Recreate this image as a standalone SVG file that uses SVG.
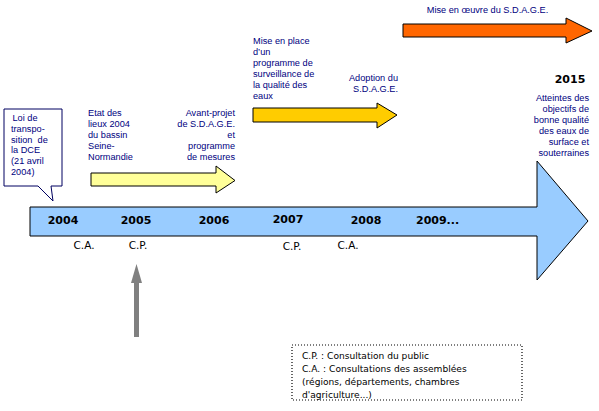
<svg xmlns="http://www.w3.org/2000/svg" width="599" height="411" viewBox="0 0 599 411">
<style>
.lbl{font-family:"Liberation Sans",Arial,sans-serif;font-size:9.2px;fill:#000080}
.r{text-anchor:end}
.yr{font-family:"DejaVu Sans",Verdana,sans-serif;font-size:11px;font-weight:bold;fill:#000}
.ab{font-family:"DejaVu Sans",Verdana,sans-serif;font-size:10.5px;fill:#000}
.lg{font-family:"DejaVu Sans",Verdana,sans-serif;font-size:9.1px;fill:#000}
.arr{stroke:#000;stroke-width:1}
</style>
<rect width="599" height="411" fill="#fff"/>
<g id="connectors">
<polygon id="timeline" class="arr" fill="#99ccff" points="30,207 537,207 537,161 588,221 537,280 537,236 30,236"/>
<polygon id="arrow-etat" class="arr" fill="#ffff99" points="91,173 216,173 216,166 235,180.5 216,193 216,186 91,186"/>
<polygon id="arrow-surv" class="arr" fill="#ffcc00" points="253,108 377,108 377,103 397,115 377,128 377,122 253,122"/>
<polygon id="arrow-oeuvre" class="arr" fill="#ff6600" points="403,24 566,24 566,18 592,31 566,43 566,37 403,37"/>
<g id="arrow-gray" fill="#808080">
<rect x="134" y="282" width="5" height="55"/>
<polygon points="131,283 136.5,264 142,283"/>
</g>
</g>
<g id="years">
<text class="yr" x="63" y="224" text-anchor="middle">2004</text>
<text class="yr" x="136" y="224" text-anchor="middle">2005</text>
<text class="yr" x="214" y="224" text-anchor="middle">2006</text>
<text class="yr" x="288" y="223" text-anchor="middle">2007</text>
<text class="yr" x="366" y="224" text-anchor="middle">2008</text>
<text class="yr" x="416" y="224">2009...</text>
<text class="yr" x="570" y="83" text-anchor="middle">2015</text>
</g>
<g id="consultations">
<text class="ab" x="84" y="249" text-anchor="middle">C.A.</text>
<text class="ab" x="138" y="249" text-anchor="middle">C.P.</text>
<text class="ab" x="292" y="250" text-anchor="middle">C.P.</text>
<text class="ab" x="348" y="249" text-anchor="middle">C.A.</text>
</g>
<g id="callout-loi">
<path d="M4,109 H62 V186 H51 L53,201 L38,186 H4 Z" fill="#fff" stroke="#000060" stroke-width="1"/>
<text class="lbl" x="12.5" y="121.3">Loi de</text>
<text class="lbl" x="11" y="132">transpo-</text>
<text class="lbl" x="11" y="142.7" xml:space="preserve">sition  de</text>
<text class="lbl" x="11" y="153.4">la DCE</text>
<text class="lbl" x="11" y="164">(21 avril</text>
<text class="lbl" x="11" y="174.7">2004)</text>
</g>
<g id="label-etat">
<text class="lbl" x="88" y="116">Etat des</text>
<text class="lbl" x="88" y="127">lieux 2004</text>
<text class="lbl" x="88" y="138">du bassin</text>
<text class="lbl" x="88" y="149">Seine-</text>
<text class="lbl" x="88" y="160">Normandie</text>
</g>
<g id="label-avant">
<text class="lbl r" x="235" y="116">Avant-projet</text>
<text class="lbl r" x="235" y="127">de S.D.A.G.E.</text>
<text class="lbl r" x="235" y="138">et</text>
<text class="lbl r" x="235" y="149">programme</text>
<text class="lbl r" x="235" y="160">de mesures</text>
</g>
<g id="label-surv">
<text class="lbl" x="253" y="43.5">Mise en place</text>
<text class="lbl" x="253" y="54.5">d’un</text>
<text class="lbl" x="253" y="65.5">programme de</text>
<text class="lbl" x="253" y="76.5">surveillance de</text>
<text class="lbl" x="253" y="87.5">la qualité des</text>
<text class="lbl" x="253" y="98.5">eaux</text>
</g>
<g id="label-adoption">
<text class="lbl r" x="398" y="81">Adoption du</text>
<text class="lbl r" x="398" y="92">S.D.A.G.E.</text>
</g>
<g id="label-oeuvre">
<text class="lbl" x="487.5" y="13" text-anchor="middle">Mise en œuvre du S.D.A.G.E.</text>
</g>
<g id="label-2015">
<text class="lbl r" x="589" y="101">Atteintes des</text>
<text class="lbl r" x="589" y="112">objectifs de</text>
<text class="lbl r" x="589" y="123">bonne qualité</text>
<text class="lbl r" x="589" y="134">des eaux de</text>
<text class="lbl r" x="589" y="145">surface et</text>
<text class="lbl r" x="589" y="156">souterraines</text>
</g>
<g id="legend">
<rect x="292" y="345" width="230" height="55" fill="#fff" stroke="#000" stroke-width="1.2" stroke-dasharray="1 2"/>
<text class="lg" x="302" y="358.5">C.P. : Consultation du public</text>
<text class="lg" x="302" y="371.5">C.A. : Consultations des assemblées</text>
<text class="lg" x="302" y="384.5">(régions, départements, chambres</text>
<text class="lg" x="302" y="397.5">d'agriculture...)</text>
</g>
</svg>
